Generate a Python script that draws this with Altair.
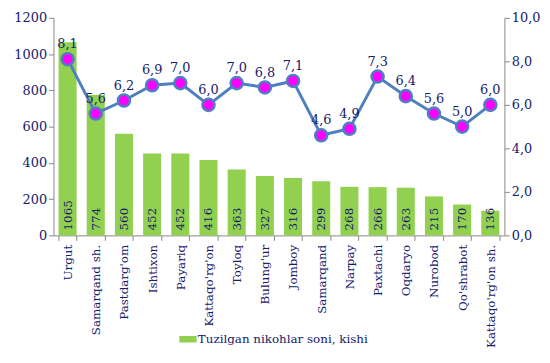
import altair as alt
import pandas as pd

categories = ["Urgut", "Samarqand sh.", "Pastdarg'om", "Ishtixon", "Payariq", "Kattaqo'rg'on",
              "Toyloq", "Bulung'ur", "Jomboy", "Samarqand", "Narpay", "Paxtachi", "Oqdaryo",
              "Nurobod", "Qo'shrabot", "Kattaqo'rg'on sh."]
marriages = [1065, 774, 560, 452, 452, 416, 363, 327, 316, 299, 268, 266, 263, 215, 170, 136]
rate = [8.1, 5.6, 6.2, 6.9, 7.0, 6.0, 7.0, 6.8, 7.1, 4.6, 4.9, 7.3, 6.4, 5.6, 5.0, 6.0]

df = pd.DataFrame({
    "cat": categories,
    "n": marriages,
    "zero": [0] * len(categories),
    "rate": rate,
    "rate_lbl": [f"{v:.1f}".replace(".", ",") for v in rate],
    "series": ["Tuzilgan nikohlar soni, kishi"] * len(categories),
})

FONT = "DejaVu Serif"
NAVY = "#14206e"
GREEN = "#92d050"
BLUE = "#4f7fbf"

x = alt.X("cat:N", sort=categories, title=None,
          scale=alt.Scale(paddingInner=0.36, paddingOuter=0.18),
          axis=alt.Axis(labelAngle=-90, labelFont=FONT, labelFontSize=12, labelColor=NAVY,
                        tickBand="extent", tickColor="#888", domainColor="#888",
                        labelPadding=4, tickSize=5, labelLimit=0))

left_axis = alt.Axis(values=[0, 200, 400, 600, 800, 1000, 1200], grid=False, format="d",
                     labelOverlap=False, labelFont=FONT, labelFontSize=13, labelColor=NAVY,
                     domainColor="#888", tickColor="#888", tickSize=5)
left_scale = alt.Scale(domain=[0, 1200])

base = alt.Chart(df)

bars = base.mark_bar(color=GREEN).encode(
    x=x,
    y=alt.Y("n:Q", title=None, scale=left_scale, axis=left_axis),
    fill=alt.Fill("series:N", scale=alt.Scale(range=[GREEN]),
                  legend=alt.Legend(title=None, orient="none", legendX=130, legendY=319,
                                    symbolType="M-1.6,-0.6H1.6V0.6H-1.6Z", symbolSize=120,
                                    labelFont=FONT, labelFontSize=12, labelColor=NAVY,
                                    labelLimit=0, symbolStrokeWidth=0)),
)

bar_text = base.mark_text(angle=270, align="left", baseline="middle", font=FONT,
                          fontSize=12, color=NAVY, dx=5).encode(
    x=alt.X("cat:N", sort=categories),
    y=alt.Y("zero:Q", title=None, scale=left_scale, axis=left_axis),
    text="n:Q",
)

y2 = alt.Y("rate:Q", title=None, scale=alt.Scale(domain=[0, 10]),
           axis=alt.Axis(orient="right", values=[0, 2, 4, 6, 8, 10], grid=False,
                         labelExpr="replace(format(datum.value, '.1f'), '.', ',')",
                         labelFont=FONT, labelFontSize=13, labelColor=NAVY,
                         domainColor="#888", tickColor="#888", tickSize=5))

line = base.mark_line(color=BLUE, strokeWidth=3).encode(x=alt.X("cat:N", sort=categories), y=y2)
pts = base.mark_point(filled=True, fill="#ff00ff", stroke=BLUE, strokeWidth=2.5, size=150,
                      opacity=1, shape="circle").encode(x=alt.X("cat:N", sort=categories), y="rate:Q")
lbl = base.mark_text(font=FONT, fontSize=13, color=NAVY, dy=-15).encode(
    x=alt.X("cat:N", sort=categories), y="rate:Q", text="rate_lbl:N")

left = alt.layer(bars, bar_text)
right = alt.layer(line, pts, lbl)

chart = alt.layer(left, right).resolve_scale(y="independent").properties(
    width=456, height=220, background="white",
    padding={"left": 5, "top": 2, "right": 2, "bottom": 5}
).configure_view(stroke=None)

chart.save("out.html", embed_options={"renderer": "svg", "actions": False})
